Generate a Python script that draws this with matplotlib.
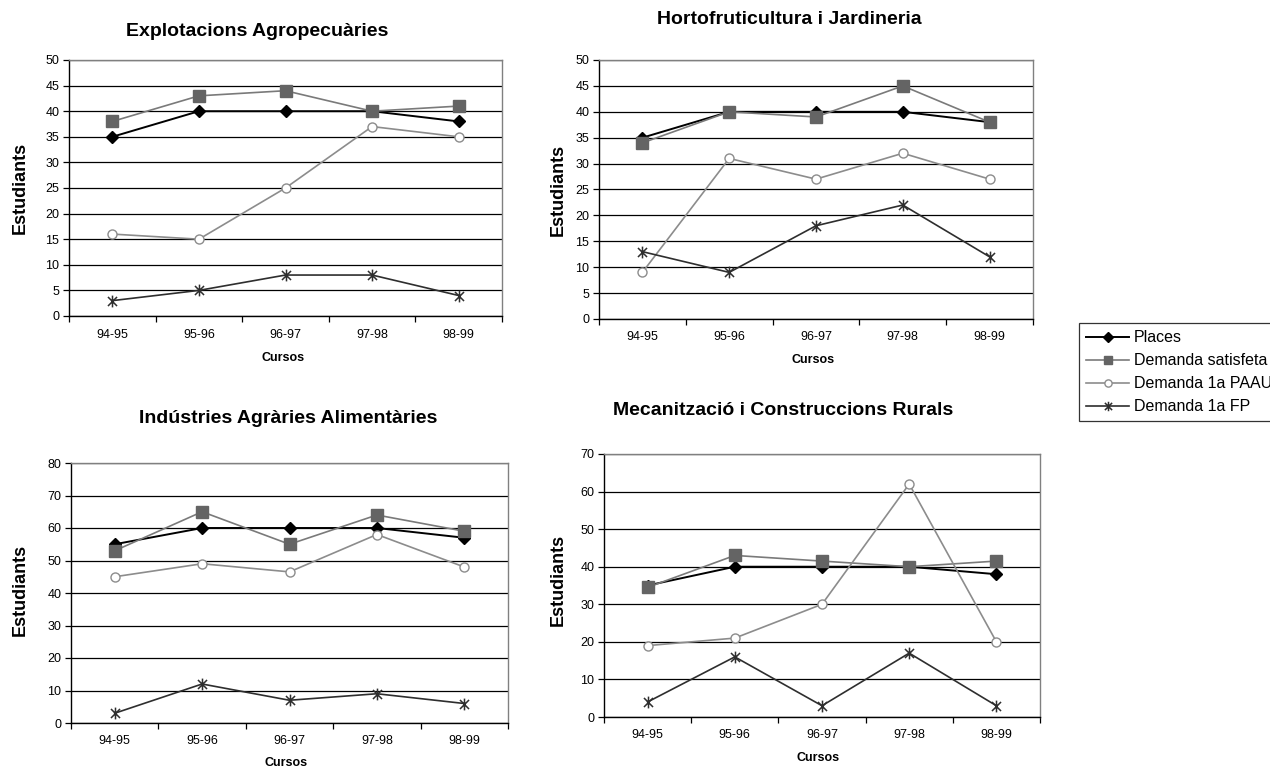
import matplotlib
import numpy as np

matplotlib.use('Agg')
import matplotlib.pyplot as plt  # noqa: E402
from matplotlib.path import Path  # noqa: E402

plt.rcParams['font.family'] = ['Liberation Sans', 'DejaVu Sans']

W, H = 1270, 769

cursos = ['94-95', '95-96', '96-97', '97-98', '98-99']
series_names = ['Places', 'Demanda satisfeta', 'Demanda 1a PAAU', 'Demanda 1a FP']

explotacions_places = [35, 40, 40, 40, 38]
explotacions_satisfeta = [38, 43, 44, 40, 41]
explotacions_paau = [16, 15, 25, 37, 35]
explotacions_fp = [3, 5, 8, 8, 4]

horto_places = [35, 40, 40, 40, 38]
horto_satisfeta = [34, 40, 39, 45, 38]
horto_paau = [9, 31, 27, 32, 27]
horto_fp = [13, 9, 18, 22, 12]

industries_places = [55, 60, 60, 60, 57]
industries_satisfeta = [53, 65, 55, 64, 59]
industries_paau = [45, 49, 46.5, 58, 48]
industries_fp = [3, 12, 7, 9, 6]

mecan_places = [35, 40, 40, 40, 38]
mecan_satisfeta = [34.5, 43, 41.5, 40, 41.5]
mecan_paau = [19, 21, 30, 62, 20]
mecan_fp = [4, 16, 3, 17, 3]

# asterisk marker: an X plus a vertical bar
ast = Path([(-1, -1), (1, 1), (-1, 1), (1, -1), (0, -1.3), (0, 1.3)],
           [Path.MOVETO, Path.LINETO, Path.MOVETO, Path.LINETO,
            Path.MOVETO, Path.LINETO])

STYLES = [
    dict(color='black', lw=1.4, marker='D', ms=6, mfc='black', mec='black'),
    dict(color='#7a7a7a', lw=1.2, marker='s', ms=8, mfc='#646464', mec='#646464'),
    dict(color='#8c8c8c', lw=1.2, marker='o', ms=6.5, mfc='white', mec='#8c8c8c', mew=1.0),
    dict(color='#2e2e2e', lw=1.2, marker=ast, ms=8.5, mfc='none', mec='#2e2e2e', mew=1.1),
]

# panel: title, data, ymax, ystep, axes px box (l, t, r, b), title px, ylabel px, xlabel px
PANELS = [
    ('Explotacions Agropecuàries',
     [explotacions_places, explotacions_satisfeta, explotacions_paau, explotacions_fp],
     50, 5, (69, 60, 502, 316), (257, 32), (20, 188), (283, 358)),
    ('Hortofruticultura i Jardineria',
     [horto_places, horto_satisfeta, horto_paau, horto_fp],
     50, 5, (599, 60, 1033, 319), (789, 20), (558, 190), (813, 360)),
    ('Indústries Agràries Alimentàries',
     [industries_places, industries_satisfeta, industries_paau, industries_fp],
     80, 10, (71, 463, 508, 723), (288, 419), (20, 590), (286, 763)),
    ('Mecanització i Construccions Rurals',
     [mecan_places, mecan_satisfeta, mecan_paau, mecan_fp],
     70, 10, (604, 454, 1040, 717), (783, 410), (558, 580), (818, 758)),
]

fig = plt.figure(figsize=(W / 100, H / 100), dpi=100)

x = np.arange(len(cursos))
handles = []
for title, data, ymax, ystep, box, tpos, ypos, xpos in PANELS:
    l, t, r, b = box
    ax = fig.add_axes([l / W, 1 - b / H, (r - l) / W, (b - t) / H])
    handles = []
    for vals, st in zip(data, STYLES):
        h, = ax.plot(x, vals, clip_on=False, zorder=3, **st)
        handles.append(h)
    ax.set_xlim(-0.5, len(cursos) - 0.5)
    ax.set_ylim(0, ymax)
    ax.set_yticks(np.arange(0, ymax + 1, ystep))
    ax.set_axisbelow(True)
    ax.yaxis.grid(True, color='black', lw=0.9)
    ax.set_xticks(np.arange(-0.5, len(cursos)), labels=[])
    ax.set_xticks(x, labels=cursos, minor=True)
    ax.tick_params(axis='x', which='major', direction='out', length=4, width=0.9)
    ax.tick_params(axis='x', which='minor', length=0, pad=9, labelsize=9)
    ax.tick_params(axis='y', direction='out', length=4, width=0.9, labelsize=9, pad=3)
    for s in ('top', 'right'):
        ax.spines[s].set_color('#808080')
        ax.spines[s].set_linewidth(1.0)
    for s in ('left', 'bottom'):
        ax.spines[s].set_color('black')
        ax.spines[s].set_linewidth(1.0)
    fig.text(tpos[0] / W, 1 - tpos[1] / H, title, ha='center', va='center',
             fontsize=14, fontweight='bold')
    fig.text(ypos[0] / W, 1 - ypos[1] / H, 'Estudiants', ha='center', va='center',
             rotation=90, fontsize=13, fontweight='bold')
    fig.text(xpos[0] / W, 1 - xpos[1] / H, 'Cursos', ha='center', va='center',
             fontsize=9, fontweight='bold')

leg = fig.legend(handles, series_names, loc='upper left',
                 bbox_to_anchor=(1079 / W, 1 - 323 / H), fontsize=11.5,
                 frameon=True, fancybox=False, edgecolor='black',
                 handlelength=2.7, handletextpad=0.3, labelspacing=0.5,
                 borderpad=0.45, borderaxespad=0)
leg.get_frame().set_linewidth(0.9)
for lh in leg.legend_handles:
    lh.set_markersize(lh.get_markersize() * 0.8)

fig.savefig('out.png', dpi=100)
